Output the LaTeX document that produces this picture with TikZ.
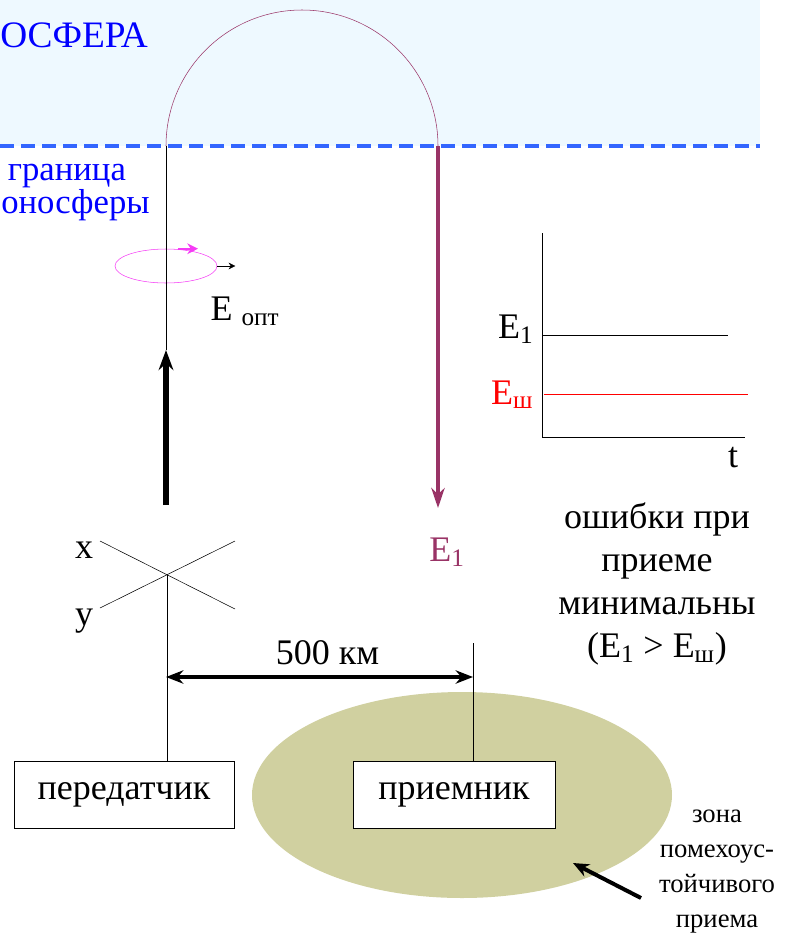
\documentclass[tikz,border=0pt]{standalone}
\usepackage{fontspec}
\setmainfont{Liberation Serif}
\usetikzlibrary{positioning, arrows.meta, shapes.geometric, calc}

\definecolor{ionofill}{RGB}{238,249,255}
\definecolor{boundcol}{RGB}{51,102,255}
\definecolor{raycol}{RGB}{153,51,102}
\definecolor{polcol}{RGB}{245,60,245}
\definecolor{zonecol}{RGB}{208,208,160}
\definecolor{ionotext}{RGB}{0,0,255}
\definecolor{noisecol}{RGB}{255,0,0}

\tikzset{
    box/.style={draw, thin, fill=white, minimum height=50pt, inner sep=0pt},
    boundary/.style={boundcol, line width=3pt, dash pattern=on 10.5pt off 5.25pt},
    ray/.style={raycol, thin},
    ionolabel/.style={text=ionotext, anchor=base west, inner sep=0pt},
    zone/.style={ellipse, fill=zonecol, minimum width=315pt, minimum height=154.5pt, inner sep=0pt},
    polring/.style={ellipse, draw=polcol, thin, minimum width=76.5pt, minimum height=25.5pt, inner sep=0pt},
    dimarrow/.style={line width=3pt, {Stealth[length=13pt, width=10pt]}-{Stealth[length=13pt, width=10pt]}},
    zonetext/.style={align=center, font=\fontsize{20}{26.25}\selectfont}
}

\begin{document}
\begin{tikzpicture}[x=0.75pt, y=-0.75pt, font=\fontsize{27}{32.25}\selectfont]
    \useasboundingbox (0,0) rectangle (786,933);

    % Ionosphere and its lower boundary
    \fill[ionofill] (0,0) rectangle (760,146);
    \draw[boundary] (0,146) -- (760,146);
    \node[ionolabel, font=\fontsize{28}{32}\selectfont] (iono) at (0,47) {ОСФЕРА};
    \node[ionolabel, align=left, font=\fontsize{26}{23.25}\selectfont] (bound) at (1,213)
        {\hspace*{5pt}граница\\оносферы};

    % Reflected ray
    \coordinate (tx) at (166,146);
    \coordinate (rx) at (438,146);
    \coordinate (rxtip) at (438,508);
    \draw[ray] (tx) arc[start angle=180, end angle=0, radius=102pt];
    \draw[ray, line width=3.5pt, -{Stealth[length=15pt, width=10pt]}] (rx) -- (rxtip);
    \node[text=raycol] (eone) at (447,552) {E\textsubscript{1}};

    % Polarisation
    \node[polring] (pol) at (166,266) {};
    \draw[polcol, line width=1.5pt, -{Stealth[length=8pt, width=8pt]}]
        ($(pol.north)+(12,0)$) -- ++(20,0);
    \draw[-{Stealth[length=5pt, width=5pt]}] (pol.east) -- ++(18,0);
    \node (eopt) at (245,311) {E \textsubscript{опт}};

    % Transmitted wave
    \coordinate (uptip) at (166,350);
    \coordinate (upbase) at (166,505);
    \draw (tx) -- (uptip);
    \draw[line width=4pt, -{Stealth[length=15pt, width=11pt]}] (upbase) -- (uptip);

    % Antenna
    \coordinate (ant) at (167,575);
    \draw (100,541) -- (235,609);
    \draw (100,608) -- (235,541);
    \node[anchor=base] (xlab) at (84,558) {x};
    \node[anchor=base] (ylab) at (84,625) {y};

    % Ground: zone, transmitter, receiver
    \node[zone] (zone) at (462,795) {};
    \node[box, minimum width=165pt] (trans) at (124,795) {передатчик};
    \node[box, minimum width=151.5pt] (recv) at (454,795) {приемник};
    \draw (ant) -- (ant |- trans.north);
    \coordinate (rtop) at (473,643);
    \draw (rtop) -- (rtop |- recv.north);

    % Distance
    \coordinate (dimL) at (166,677);
    \coordinate (dimR) at (473,677);
    \draw[dimarrow] (dimL) -- (dimR) node[midway, above=4pt, xshift=6pt] {500 км};

    % Field strength vs time
    \coordinate (gtop) at (542,233);
    \coordinate (gorig) at (542,437);
    \coordinate (gright) at (745,437);
    \draw (gtop) -- (gorig) -- (gright);
    \draw (542,335) -- (728,335);
    \draw[noisecol] (544,394) -- (748,394);
    \node[anchor=base east] (gone) at (538,338) {E\textsubscript{1}};
    \node[anchor=base east, text=noisecol] (gnoise) at (538,404) {E\textsubscript{ш}};
    \node[anchor=base] (tlab) at (733,467) {t};

    \node[align=center] (errors) at (657,584)
        {ошибки при\\приеме\\минимальны\\(E\textsubscript{1} > E\textsubscript{ш})};

    % Zone label
    \node[zonetext] (zonelbl) at (717,872) {зона\\помехоус-\\тойчивого\\приема};
    \coordinate (zarrow) at (641,898);
    \draw[line width=3pt, -{Stealth[length=12pt, width=10pt]}] (zarrow) -- (573,863);
\end{tikzpicture}
\end{document}
